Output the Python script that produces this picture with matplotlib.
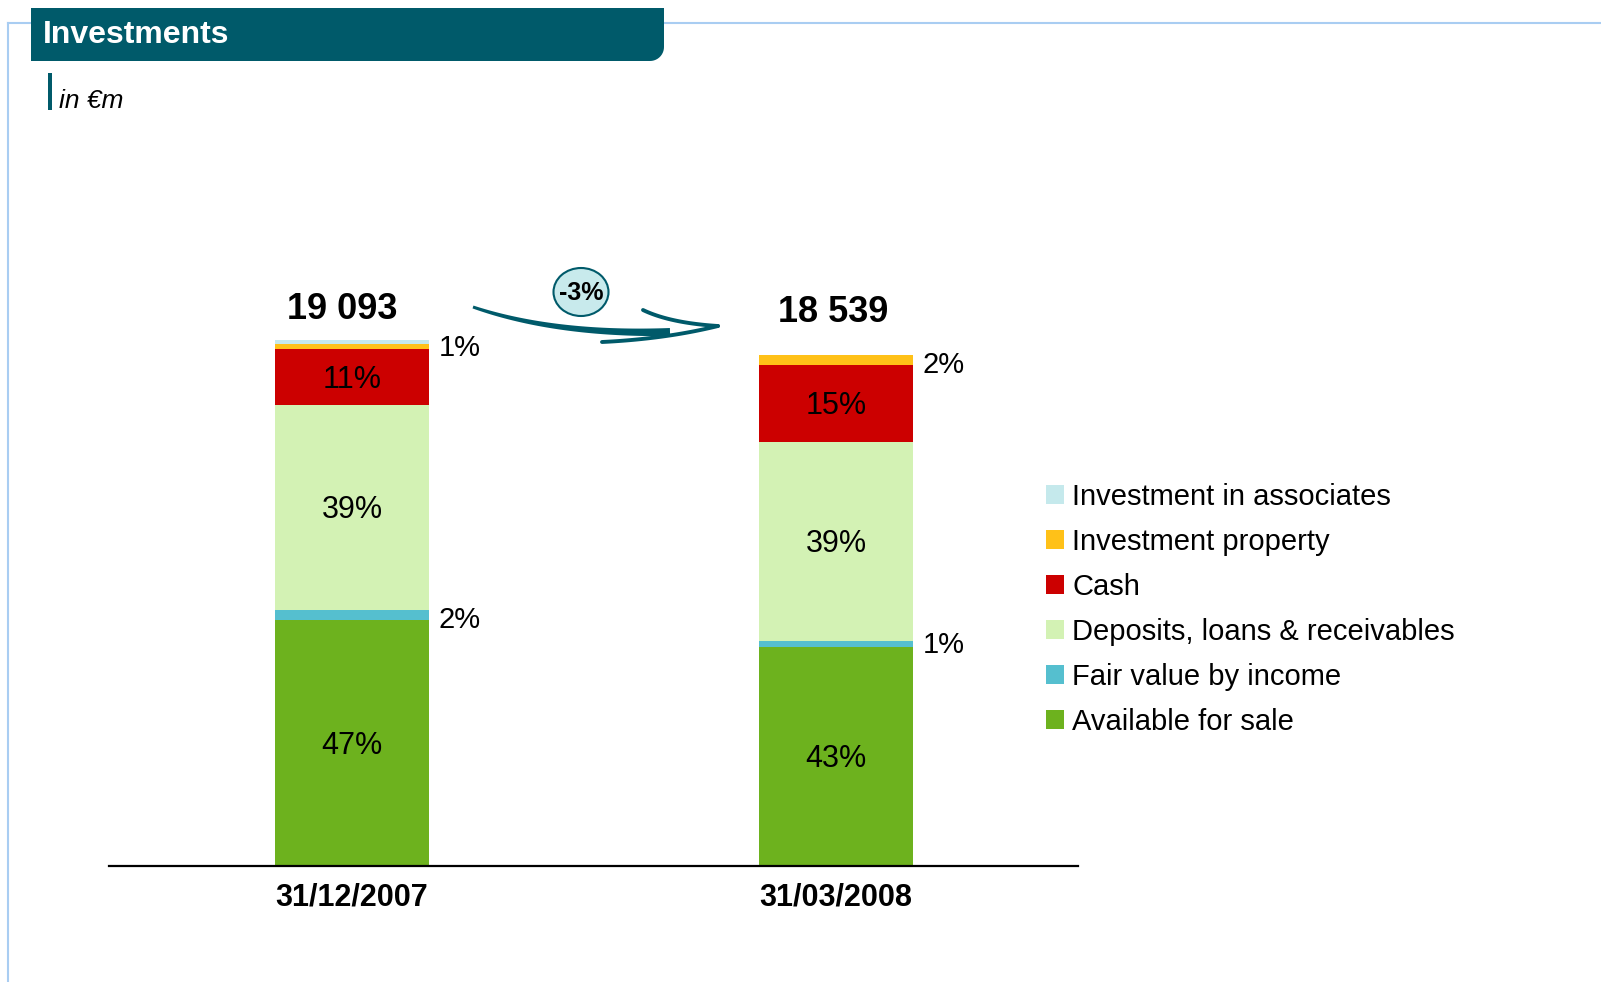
import numpy as np
import matplotlib.pyplot as plt
from matplotlib.patches import Ellipse, Polygon, Patch

plt.rcParams['font.family'] = ['Liberation Sans', 'DejaVu Sans']

# data (in EUR m)
dates = ['31/12/2007', '31/03/2008']
totals = [19093, 18539]
total_labels = ['19 093', '18 539']
change_label = '-3%'

categories = ['Available for sale', 'Fair value by income', 'Deposits, loans & receivables',
              'Cash', 'Investment property', 'Investment in associates']
afs = [8935, 7953]
fair_value = [363, 222]
deposits = [7446, 7230]
cash = [2005, 2762]
inv_property = [191, 371]
associates = [153, 1]

afs_pct = ['47%', '43%']
fair_value_pct = ['2%', '1%']
deposits_pct = ['39%', '39%']
cash_pct = ['11%', '15%']
property_pct = ['1%', '2%']

colors = ['#6db21e', '#55bfcf', '#d3f2b4', '#cc0000', '#ffc118', '#c5e9ec']
teal = '#005a6a'

W, H = 1601, 982
fig = plt.figure(figsize=(W / 100, H / 100), dpi=100)

# main chart
ax = fig.add_axes([109 / W, 1 - 866 / H, (1078 - 109) / W, 551 / H])
x = np.arange(len(dates))
bw = 0.318
series = [afs, fair_value, deposits, cash, inv_property, associates]
bottom = np.zeros(len(dates))
bottoms = []
for vals, col, name in zip(series, colors, categories):
    bottoms.append(bottom.copy())
    ax.bar(x, vals, bw, bottom=bottom, color=col, label=name, zorder=2)
    bottom += np.array(vals)

# labels inside bars
inside = [(0, afs_pct), (2, deposits_pct), (3, cash_pct)]
for idx, labs in inside:
    for i in range(len(dates)):
        yc = bottoms[idx][i] + series[idx][i] / 2
        ax.annotate(labs[i], (x[i], yc), xytext=(0, -2), textcoords='offset points',
                    ha='center', va='center', fontsize=22, color='black', zorder=3)

# labels outside bars
outside = [(1, fair_value_pct, [-4, -1]), (4, property_pct, [-1, -3])]
for idx, labs, dy in outside:
    for i in range(len(dates)):
        yc = bottoms[idx][i] + series[idx][i] / 2
        ax.annotate(labs[i], (x[i] + bw / 2, yc), xytext=(7, dy[i]), textcoords='offset points',
                    ha='left', va='center', fontsize=21)

# totals
tot_offsets = [(-7, 22), (-2, 31)]
for i in range(len(dates)):
    ax.annotate(total_labels[i], (x[i], totals[i]), xytext=tot_offsets[i], textcoords='offset points',
                ha='center', va='center', fontsize=26, fontweight='bold')

ax.set_xlim(-0.502, 1.5)
ax.set_ylim(0, 20000)
ax.set_xticks(x)
ax.set_xticklabels(dates, fontsize=22, fontweight='bold')
ax.tick_params(axis='x', length=0, pad=12)
ax.set_yticks([])
for s in ['top', 'right', 'left']:
    ax.spines[s].set_visible(False)
ax.spines['bottom'].set_linewidth(1.6)
ax.spines['bottom'].set_color('black')
ax.set_facecolor('none')

# legend (top item first)
handles = [Patch(facecolor=c, edgecolor='none') for c in colors][::-1]
fig.legend(handles, categories[::-1], loc='upper left', bbox_to_anchor=(1046 / W, 1 - 483 / H),
           frameon=False, fontsize=21, handlelength=0.6, handleheight=0.6, handletextpad=0.3,
           labelspacing=0.58, borderpad=0, borderaxespad=0)

# decorations in pixel coordinates
ov = fig.add_axes([0, 0, 1, 1])
ov.set_xlim(0, W)
ov.set_ylim(H, 0)
ov.axis('off')

frame_col = '#a9cdf2'
ov.plot([8, W], [23, 23], color=frame_col, lw=1.5)
ov.plot([8, 8], [23, H], color=frame_col, lw=1.5)

# header tab
r = 14
theta = np.linspace(0, np.pi / 2, 12)
arc = [(664 - r + r * np.cos(t), 61 - r + r * np.sin(t)) for t in theta]
verts = [(31, 8), (664, 8)] + arc + [(31, 61)]
ov.add_patch(Polygon(verts, closed=True, facecolor=teal, edgecolor='none', zorder=3))
ov.text(43, 35, 'Investments', color='white', fontsize=23, fontweight='bold', ha='left', va='center', zorder=4)

# unit label
ov.add_patch(Polygon([(48, 73), (52, 73), (52, 110), (48, 110)], closed=True, facecolor=teal, edgecolor='none'))
ov.text(59, 101, 'in €m', fontsize=19, style='italic', ha='left', va='center')

# brush arrow
def bez(p0, p1, p2, n=60):
    t = np.linspace(0, 1, n)[:, None]
    return (1 - t) ** 2 * np.array(p0) + 2 * (1 - t) * t * np.array(p1) + t ** 2 * np.array(p2)

pts = bez((473, 307), (555, 335), (670, 332))
d = np.gradient(pts, axis=0)
nrm = np.stack([-d[:, 1], d[:, 0]], axis=1)
nrm /= np.linalg.norm(nrm, axis=1)[:, None]
half = np.linspace(1.5, 4.0, len(pts))[:, None]
poly = np.vstack([pts + nrm * half, (pts - nrm * half)[::-1]])
ov.add_patch(Polygon(poly, closed=True, facecolor=teal, edgecolor='none'))
up = bez((643, 310), (670, 323), (718, 326))
lo = bez((602, 342), (665, 339), (718, 326))
ov.plot(up[:, 0], up[:, 1], color=teal, lw=2.8, solid_capstyle='round')
ov.plot(lo[:, 0], lo[:, 1], color=teal, lw=2.8, solid_capstyle='round')

ov.add_patch(Ellipse((581, 292), 55, 48, facecolor='#c8eaec', edgecolor=teal, lw=1.5))
ov.text(581, 293, change_label, ha='center', va='center', fontsize=18, fontweight='bold')

fig.savefig('out.png', dpi=100)
